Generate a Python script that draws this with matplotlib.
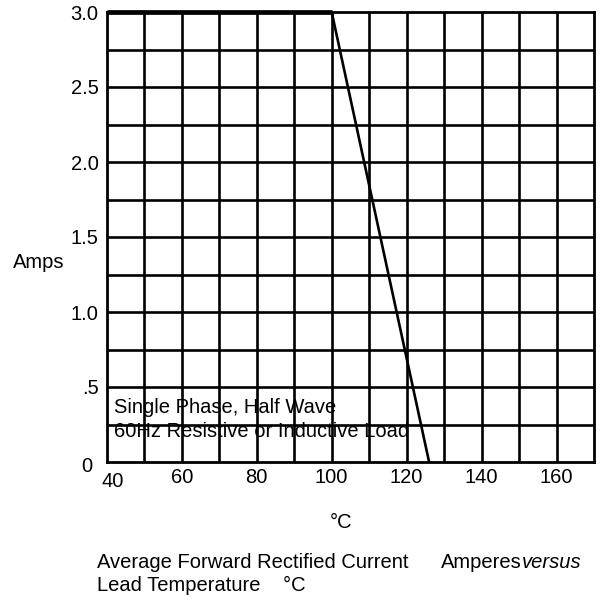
import matplotlib
matplotlib.use("Agg")
import matplotlib.pyplot as plt
import matplotlib.transforms as mtransforms
import numpy as np

plt.rcParams['font.family'] = ['Liberation Sans', 'DejaVu Sans']

temp = [40, 100, 126]
amps = [3.0, 3.0, 0.0]
x_ticks = [40, 60, 80, 100, 120, 140, 160]
y_ticks = [0, 0.5, 1.0, 1.5, 2.0, 2.5, 3.0]
y_labels = ["0", ".5", "1.0", "1.5", "2.0", "2.5", "3.0"]

fig = plt.figure(figsize=(6, 6), dpi=100)
ax = fig.add_axes([0.178, 0.23, 0.812, 0.75])
ax.set_xlim(40, 170)
ax.set_ylim(0, 3.0)

for xv in np.arange(50, 170, 10):
    ax.axvline(xv, color='black', lw=1.9, zorder=1)
for yv in np.arange(0.25, 3.0, 0.25):
    ax.axhline(yv, color='black', lw=1.9, zorder=1)
for s in ax.spines.values():
    s.set_linewidth(2.0)

ax.plot(temp[:2], amps[:2], color='black', lw=3.4, zorder=3, solid_capstyle='butt', clip_on=False)
ax.plot(temp[1:], amps[1:], color='black', lw=1.9, zorder=3)

ax.set_xticks(x_ticks)
ax.set_xticklabels([str(t) for t in x_ticks])
ax.set_yticks(y_ticks)
ax.set_yticklabels(y_labels)
ax.tick_params(length=0, labelsize=14.5)
ax.tick_params(axis='x', pad=4)
ax.tick_params(axis='y', pad=6)
xl = ax.get_xticklabels()
xl[0].set_transform(xl[0].get_transform() + mtransforms.ScaledTranslation(6/100, -4/100, fig.dpi_scale_trans))
yl = ax.get_yticklabels()
yl[0].set_transform(yl[0].get_transform() + mtransforms.ScaledTranslation(-6/100, -2/100, fig.dpi_scale_trans))

ax.text(42.0, 0.365, "Single Phase, Half Wave", fontsize=14.5, va='center', ha='left', zorder=4)
ax.text(42.0, 0.205, "60Hz Resistive or Inductive Load", fontsize=14.5, va='center', ha='left', zorder=4)

fig.text(0.065, 0.563, "Amps", fontsize=14.5, ha='center', va='center')
fig.text(0.568, 0.13, "\u00b0C", fontsize=14.5, ha='center', va='center')
fig.text(0.162, 0.063, "Average Forward Rectified Current", fontsize=14.5, ha='left', va='center')
fig.text(0.735, 0.063, "Amperes", fontsize=14.5, ha='left', va='center')
fig.text(0.970, 0.063, "versus", fontsize=14.5, ha='right', va='center', style='italic')
fig.text(0.162, 0.025, "Lead Temperature    \u00b0C", fontsize=14.5, ha='left', va='center')

fig.savefig("out.png", dpi=100)
